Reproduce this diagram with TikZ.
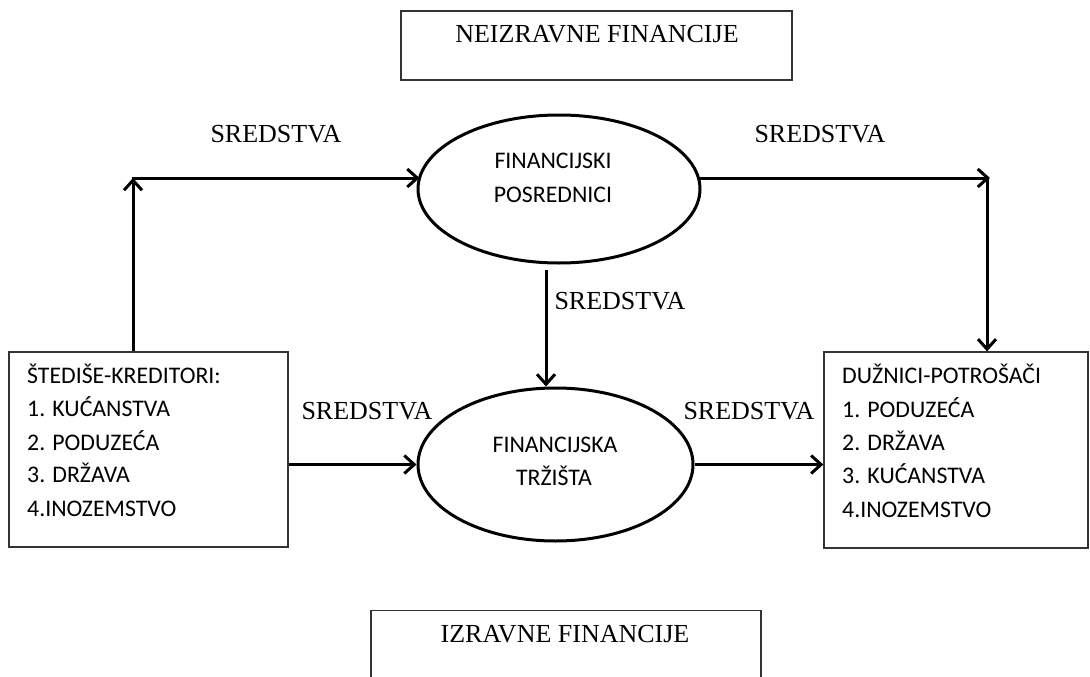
\documentclass[tikz,border=0pt]{standalone}
\usepackage{fontspec}
\setmainfont{Liberation Serif}
\newfontfamily\calib{Carlito}
\usetikzlibrary{shapes.geometric,arrows.meta}
\begin{document}
\begin{tikzpicture}[x=1pt,y=-1pt,
  frame/.style={draw=black!80,line width=1.3pt,rectangle,inner sep=0pt},
  oval/.style={draw=black,line width=3pt,ellipse,inner sep=0pt},
  arr/.style={line width=3pt,-{Straight Barb[length=10pt,width=18pt]}},
  ttl/.style={font=\fontsize{26}{30}\selectfont,anchor=base,inner sep=0pt},
  lbl/.style={font=\fontsize{26}{30}\selectfont,anchor=base,inner sep=0pt},
  itm/.style={font=\calib\fontsize{23.8}{28}\selectfont,anchor=base west,inner sep=0pt},
  otx/.style={font=\calib\fontsize{23.8}{28}\selectfont,anchor=base,inner sep=0pt}]
\useasboundingbox (0,0) rectangle (1090,677);
\clip (0,0) rectangle (1090,677);

% boxes
\node[frame,minimum width=391pt,minimum height=69pt] (neiz) at (596.5,45.5) {};
\node[frame,minimum width=390pt,minimum height=69pt] (izr) at (566,645) {};
\node[frame,minimum width=279pt,minimum height=195pt] (kred) at (148.5,449.5) {};
\node[frame,minimum width=264pt,minimum height=196pt] (potr) at (956,450) {};

% ellipses
\node[oval,minimum width=282pt,minimum height=148pt] (posr) at (559,189) {};
\node[oval,minimum width=275pt,minimum height=153pt] (trz) at (555.5,464.5) {};

% titles
\node[ttl] (tneiz) at (597,43) {NEIZRAVNE FINANCIJE};
\node[ttl] (tizr) at (565,642) {IZRAVNE FINANCIJE};

% ellipse texts
\node[otx] (p1) at (553,168) {FINANCIJSKI};
\node[otx] (p2) at (553,202) {POSREDNICI};
\node[otx] (t1) at (555,452) {FINANCIJSKA};
\node[otx] (t2) at (554,485) {TRŽIŠTA};

% left box text
\node[itm] (k0) at (27,383) {ŠTEDIŠE-KREDITORI:};
\node[itm] (k1) at (27,416) {1. KUĆANSTVA};
\node[itm] (k2) at (27,450) {2. PODUZEĆA};
\node[itm] (k3) at (27,482) {3. DRŽAVA};
\node[itm] (k4) at (27,516) {4.INOZEMSTVO};

% right box text
\node[itm] (d0) at (842,383) {DUŽNICI-POTROŠAČI};
\node[itm] (d1) at (842,417) {1. PODUZEĆA};
\node[itm] (d2) at (842,450) {2. DRŽAVA};
\node[itm] (d3) at (842,483) {3. KUĆANSTVA};
\node[itm] (d4) at (842,517) {4.INOZEMSTVO};

% labels
\node[lbl] (s1) at (276,142) {SREDSTVA};
\node[lbl] (s2) at (820,142) {SREDSTVA};
\node[lbl] (s3) at (620,309) {SREDSTVA};
\node[lbl] (s4) at (367,419) {SREDSTVA};
\node[lbl] (s5) at (749,419) {SREDSTVA};

% connector corners
\coordinate (c1) at (133,178);
\coordinate (c2) at (987,178);
\coordinate (m1) at (546,270);

\draw[arr] (c1 |- kred.north) -- (c1);
\draw[line width=3pt] ([xshift=-1.5pt]c1) -- (c1);
\draw[arr] (c1) -- ([xshift=3pt]c1 -| posr.west);
\draw[arr] ([xshift=-2pt]c2 -| posr.east) -- ([xshift=3pt]c2);
\draw[arr] (c2) -- (c2 |- potr.north);
\draw[arr] (m1) -- (m1 |- trz.north);
\draw[arr] (kred.east |- trz.west) -- (trz.west);
\draw[arr] (trz.east) -- (trz.east -| potr.west);
\end{tikzpicture}
\end{document}
